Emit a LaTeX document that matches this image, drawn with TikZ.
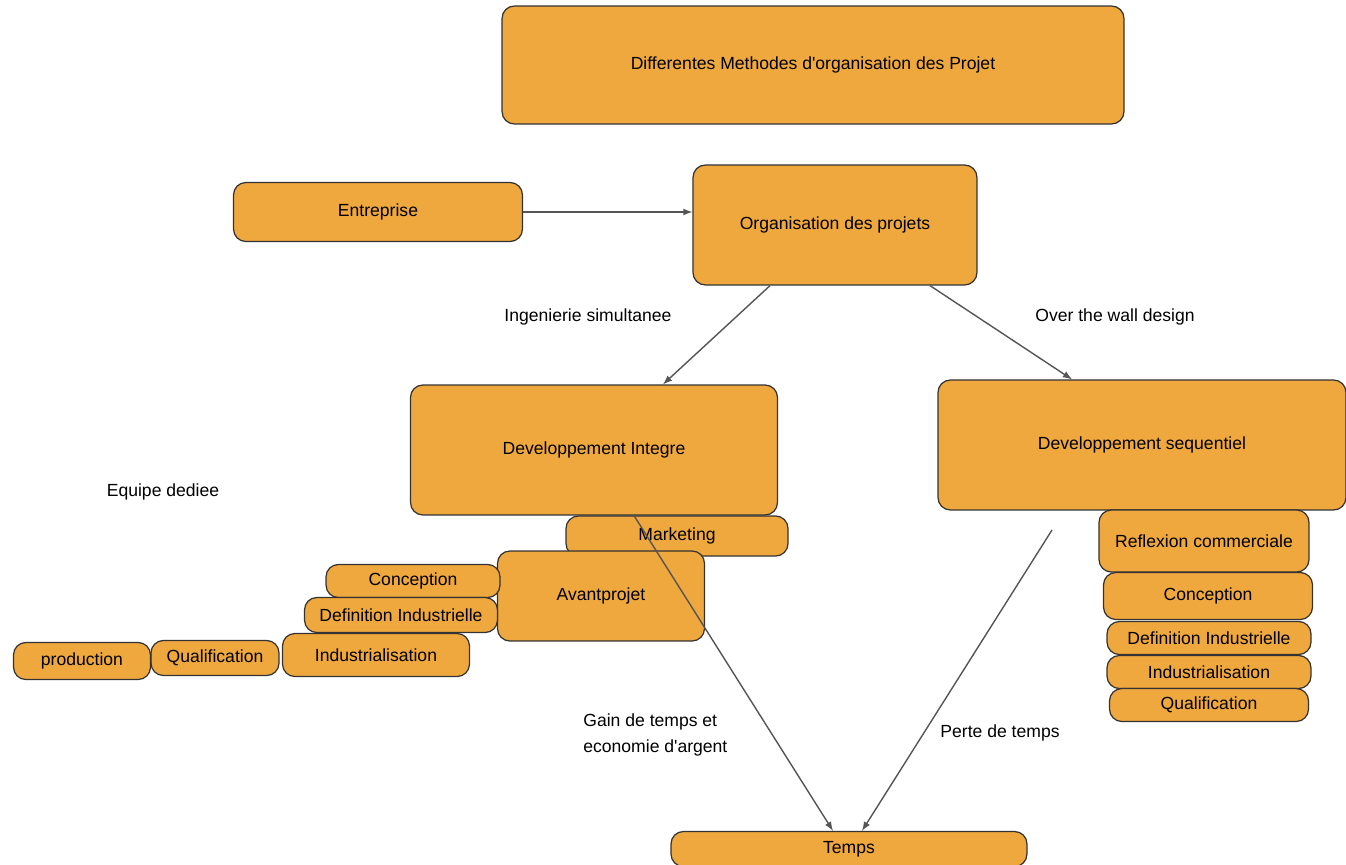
\documentclass[tikz,border=0pt]{standalone}
\usepackage{fontspec}
\setmainfont{Liberation Sans}
\usetikzlibrary{arrows}
\definecolor{boxfill}{RGB}{239,168,62}
\definecolor{arrgray}{RGB}{85,85,85}
\tikzset{%
box/.style args={#1#2}{draw=black!80,line width=0.7pt,fill=boxfill,rounded corners=7pt,
  minimum width=#1,minimum height=#2,inner sep=1pt,font=\fontsize{10}{12}\selectfont},
lbl/.style={font=\fontsize{10}{12}\selectfont,inner sep=0pt},
arr/.style={->,>=latex,draw=arrgray,line width=0.8pt},
}
\begin{document}
\begin{tikzpicture}[x=0.02cm,y=-0.02cm]
    \useasboundingbox (0,0) rectangle (1346,865);
    % top level
    \node[box={12.44cm}{2.36cm}] (title) at (813,65) {Differentes Methodes d\textquotesingle organisation des Projet};
    \node[box={5.78cm}{1.18cm}] (ent) at (378,212) {Entreprise};
    \node[box={5.68cm}{2.4cm}] (org) at (835,225) {Organisation des projets};
    % two ways
    \node[box={7.34cm}{2.6cm}] (devint) at (594,450) {Developpement Integre};
    \node[box={8.16cm}{2.6cm}] (devseq) at (1142,445) {Developpement sequentiel};
    % integre side
    \node[box={4.44cm}{0.8cm}] (mkt) at (677,536) {Marketing};
    \node[box={4.14cm}{1.8cm}] (avp) at (601,596) {Avantprojet};
    \node[box={3.48cm}{0.66cm}] (concl) at (413,581) {Conception};
    \node[box={3.86cm}{0.7cm}] (defl) at (401,615) {Definition Industrielle};
    \node[box={3.74cm}{0.86cm}] (indl) at (376,655) {Industrialisation};
    \node[box={2.56cm}{0.7cm}] (quall) at (215,658) {Qualification};
    \node[box={2.74cm}{0.74cm}] (prod) at (82,661) {production};
    % sequentiel side
    \node[box={4.2cm}{1.24cm}] (refl) at (1204,541) {Reflexion commerciale};
    \node[box={4.18cm}{0.94cm}] (concr) at (1208,596) {Conception};
    \node[box={4.08cm}{0.66cm}] (defr) at (1209,638) {Definition Industrielle};
    \node[box={4.08cm}{0.66cm}] (indr) at (1209,672) {Industrialisation};
    \node[box={3.98cm}{0.66cm}] (qualr) at (1209,705) {Qualification};
    \node[box={7.12cm}{0.7cm}] (temps) at (849,849) {Temps};
    % free labels
    \node[lbl] (ingsim) at (588,317) {Ingenierie simultanee};
    \node[lbl] (otw) at (1115,317) {Over the wall design};
    \node[lbl] (equipe) at (163,492) {Equipe dediee};
    \node[lbl,align=left,anchor=west] (gain) at (583,735) {Gain de temps et\\[3pt]economie d\textquotesingle argent};
    \node[lbl] (perte) at (1000,733) {Perte de temps};
    \coordinate (seqstart) at (1052,530);
    % arrows
    \draw[arr] (ent.east) -- (ent.east -| org.west);
    \draw[arr] ([xshift=-1.3cm]org.south) -- ([xshift=1.38cm]devint.north);
    \draw[arr] ([xshift=1.9cm]org.south) -- ([xshift=-1.4cm]devseq.north);
    \draw[arr] ([xshift=0.8cm]devint.south) -- ([xshift=-0.32cm]temps.north);
    \draw[arr] (seqstart) -- ([xshift=0.26cm]temps.north);
\end{tikzpicture}
\end{document}
